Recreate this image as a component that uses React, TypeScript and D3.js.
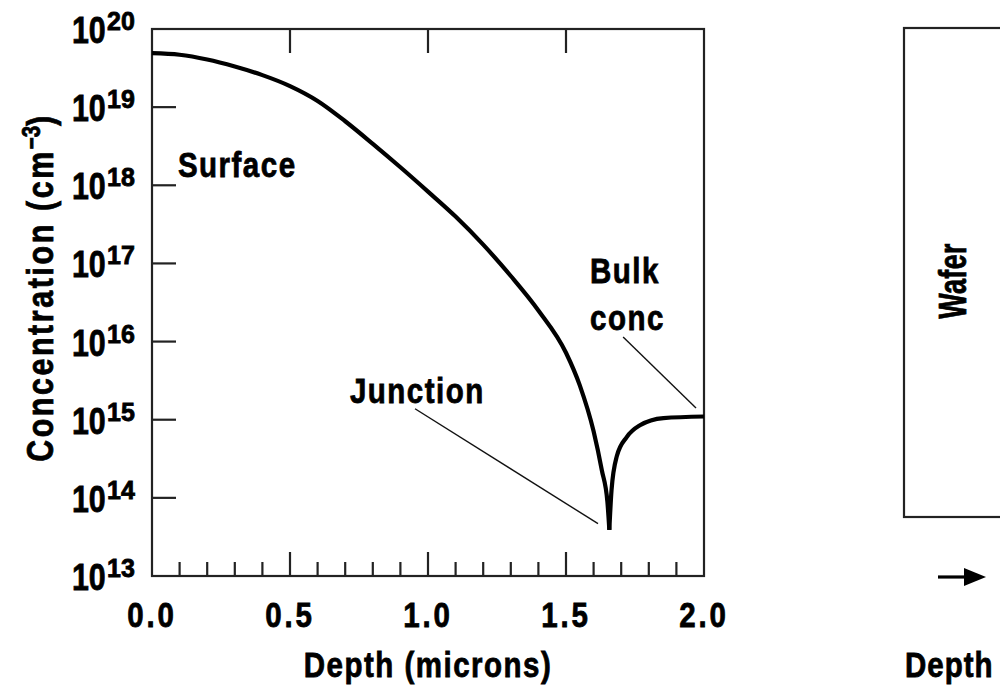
import * as d3 from "d3";
import type { ReactNode } from "react";

// left branch of the profile (surface to junction)
const leftDepth = [0, 0.1, 0.2, 0.3, 0.4, 0.5, 0.6, 0.7, 0.8, 0.9, 1.0, 1.1, 1.2, 1.3, 1.4, 1.5, 1.55, 1.6, 1.63, 1.65, 1.657];
const leftConc = [4.9e19, 4.68e19, 4.07e19, 3.31e19, 2.57e19, 1.86e19, 1.2e19, 6.6e18, 3.39e18, 1.7e18, 8.3e17, 3.98e17, 1.74e17, 6.9e16, 2.5e16, 7.2e15, 2.75e15, 7.1e14, 2.24e14, 8.9e13, 3.9e13];

// right branch (junction to bulk)
const rightDepth = [1.657, 1.665, 1.684, 1.72, 1.768, 1.853, 2.0];
const rightConc = [3.9e13, 1.26e14, 3.4e14, 6.0e14, 8.5e14, 1.05e15, 1.1e15];

const xTickLabels = ["0.0", "0.5", "1.0", "1.5", "2.0"];
const xMajor = [0, 0.5, 1.0, 1.5, 2.0];
const xMinor = [0.1, 0.2, 0.3, 0.4, 0.6, 0.7, 0.8, 0.9, 1.1, 1.2, 1.3, 1.4, 1.6, 1.7, 1.8, 1.9];
const yExponents = [13, 14, 15, 16, 17, 18, 19, 20];

const FONT = "'Liberation Sans', Arial, sans-serif";
const NARROW = 0.82; // squeeze to look like a condensed face

type LabelProps = {
  x: number;
  y: number;
  size?: number;
  spacing?: number;
  anchor?: "start" | "middle" | "end";
  rotate?: number;
  squeeze?: number;
  children: ReactNode;
};

function Label({ x, y, size = 36, spacing = 1.8, anchor = "start", rotate = 0, squeeze = NARROW, children }: LabelProps) {
  return (
    <text
      transform={`translate(${x},${y}) rotate(${rotate}) scale(${squeeze},1)`}
      textAnchor={anchor}
      fontFamily={FONT}
      fontWeight={700}
      fontSize={size}
      letterSpacing={spacing}
      fill="#000"
      stroke="#000"
      strokeWidth={0.8}
    >
      {children}
    </text>
  );
}

export default function App() {
  const width = 1000;
  const height = 687;
  const left = 152;
  const right = 704;
  const top = 29;
  const bottom = 576;

  const x = d3.scaleLinear().domain([0, 2]).range([left, right]);
  const y = d3.scaleLog().domain([1e13, 1e20]).range([bottom, top]);

  const line = d3
    .line<[number, number]>()
    .x((d) => x(d[0]))
    .y((d) => y(d[1]))
    .curve(d3.curveMonotoneX);

  const leftPath = line(leftDepth.map((d, i) => [d, leftConc[i]] as [number, number])) || "";
  const rightPath = line(rightDepth.map((d, i) => [d, rightConc[i]] as [number, number])) || "";

  return (
    <svg
      width={width}
      height={height}
      style={{ position: "absolute", left: 0, top: 0, background: "#fff" }}
    >
      <rect x={0} y={0} width={width} height={height} fill="#fff" />

      {/* frame */}
      <rect
        x={left}
        y={top}
        width={right - left}
        height={bottom - top}
        fill="none"
        stroke="#222"
        strokeWidth={2.2}
      />

      {/* left ticks */}
      {yExponents.slice(1, -1).map((e) => (
        <line key={"yt" + e} x1={left} x2={left + 24} y1={y(10 ** e)} y2={y(10 ** e)} stroke="#222" strokeWidth={2.2} />
      ))}
      {/* bottom ticks */}
      {xMajor.slice(1, -1).map((v) => (
        <line key={"xb" + v} x1={x(v)} x2={x(v)} y1={bottom} y2={bottom - 24} stroke="#222" strokeWidth={2.2} />
      ))}
      {xMinor.map((v) => (
        <line key={"xm" + v} x1={x(v)} x2={x(v)} y1={bottom} y2={bottom - 14} stroke="#222" strokeWidth={2.2} />
      ))}
      {/* top ticks */}
      {xMajor.slice(1, -1).map((v) => (
        <line key={"xt" + v} x1={x(v)} x2={x(v)} y1={top} y2={top + 24} stroke="#222" strokeWidth={2.2} />
      ))}

      {/* y tick labels: condensed "10" with a wider superscript */}
      {yExponents.map((e) => (
        <g key={"yl" + e}>
          <Label x={72} y={y(10 ** e) + 14} size={37} spacing={0}>
            10
          </Label>
          <Label x={107} y={y(10 ** e) + 1} size={25} spacing={0} squeeze={1}>
            {e}
          </Label>
        </g>
      ))}

      {/* x tick labels */}
      {xMajor.map((v, i) => (
        <Label key={"xl" + v} x={x(v)} y={627} size={36} spacing={3.5} anchor="middle">
          {xTickLabels[i]}
        </Label>
      ))}

      {/* axis titles */}
      <Label x={(left + right) / 2} y={677} anchor="middle">
        Depth (microns)
      </Label>
      <Label x={53} y={(top + bottom) / 2 - 15} rotate={-90} anchor="middle" size={37} spacing={3.2}>
        Concentration (cm
        <tspan dy={-13} fontSize={25} letterSpacing={0}>
          −3
        </tspan>
        <tspan dy={13}>)</tspan>
      </Label>

      {/* profile */}
      <path d={leftPath} fill="none" stroke="#000" strokeWidth={4.2} strokeLinecap="butt" />
      <path d={rightPath} fill="none" stroke="#000" strokeWidth={4.2} strokeLinecap="butt" />

      {/* annotations */}
      <Label x={x(0.094)} y={y(10 ** 18.11)}>
        Surface
      </Label>
      <Label x={x(0.717)} y={y(10 ** 15.21)}>
        Junction
      </Label>
      <line x1={x(0.953)} y1={y(10 ** 15.14)} x2={x(1.616)} y2={y(10 ** 13.67)} stroke="#111" strokeWidth={1.4} />
      <Label x={x(1.587)} y={y(10 ** 16.75)}>
        Bulk
      </Label>
      <Label x={x(1.587)} y={y(10 ** 16.15)}>
        conc
      </Label>
      <line x1={x(1.707)} y1={y(10 ** 16.06)} x2={x(1.971)} y2={y(10 ** 15.15)} stroke="#111" strokeWidth={1.4} />

      {/* wafer sketch */}
      <rect x={904} y={28} width={120} height={489} fill="none" stroke="#222" strokeWidth={2.2} />
      <Label x={966} y={281} rotate={-90} anchor="middle" size={38} spacing={0.5} squeeze={0.71}>
        Wafer
      </Label>
      <line x1={938} y1={577} x2={968} y2={577} stroke="#000" strokeWidth={3.2} />
      <path d="M964,568 L986,577 L964,586 Z" fill="#000" />
      <Label x={905} y={677} spacing={1.2}>
        Depth
      </Label>
    </svg>
  );
}
